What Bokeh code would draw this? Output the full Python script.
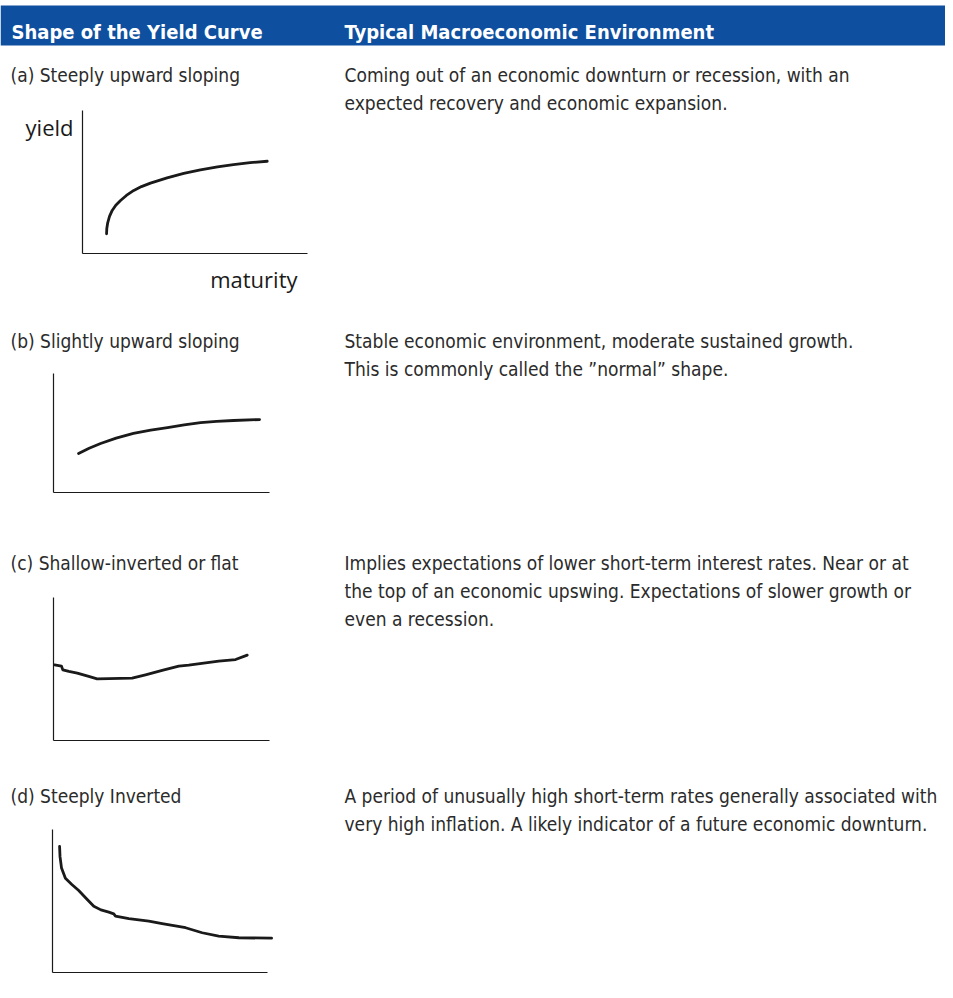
from bokeh.plotting import figure
from bokeh.models import Range1d
from bokeh.core.properties import value
from bokeh.embed import file_html
from bokeh.resources import INLINE

# ---------------- data ----------------
headers = ["Shape of the Yield Curve", "Typical Macroeconomic Environment"]
shape_labels = ["(a) Steeply upward sloping", "(b) Slightly upward sloping",
                "(c) Shallow-inverted or flat", "(d) Steeply Inverted"]
descriptions = [
    ["Coming out of an economic downturn or recession, with an",
     "expected recovery and economic expansion."],
    ["Stable economic environment, moderate sustained growth.",
     "This is commonly called the \u201dnormal\u201d shape."],
    ["Implies expectations of lower short-term interest rates. Near or at",
     "the top of an economic upswing. Expectations of slower growth or",
     "even a recession."],
    ["A period of unusually high short-term rates generally associated with",
     "very high inflation. A likely indicator of a future economic downturn."],
]
axis_y_label = "yield"
axis_x_label = "maturity"

# curves in chart units (maturity 0..10, yield 0..10)
a_maturity = [1.07, 1.08, 1.12, 1.20, 1.32, 1.48, 1.69, 1.95, 2.28, 2.62, 3.02, 3.76, 4.50, 5.24, 6.00, 6.71, 7.45, 8.21]
a_yield    = [1.38, 1.75, 2.15, 2.60, 3.01, 3.38, 3.71, 4.06, 4.41, 4.68, 4.92, 5.29, 5.60, 5.85, 6.05, 6.22, 6.35, 6.45]

b_maturity = [1.16, 1.65, 2.18, 2.90, 3.70, 4.50, 5.28, 6.05, 6.81, 7.55, 8.33, 9.54]
b_yield    = [3.28, 3.72, 4.12, 4.57, 4.96, 5.24, 5.46, 5.69, 5.88, 5.98, 6.05, 6.13]

c_maturity = [0.05, 0.37, 0.43, 0.71, 1.10, 1.63, 2.02, 3.64, 4.26, 5.03, 5.80, 6.26, 7.65, 8.43, 8.97]
c_yield    = [5.29, 5.20, 4.94, 4.83, 4.71, 4.48, 4.31, 4.36, 4.59, 4.90, 5.20, 5.27, 5.55, 5.66, 5.97]

d_maturity = [0.33, 0.35, 0.42, 0.60, 0.90, 1.22, 1.57, 1.92, 2.25, 2.62, 2.85, 2.93, 3.55, 4.48, 5.10, 6.19, 6.96, 7.73, 8.67, 10.19]
d_yield    = [8.81, 8.10, 7.30, 6.59, 6.15, 5.73, 5.18, 4.64, 4.38, 4.22, 4.10, 3.94, 3.76, 3.59, 3.41, 3.13, 2.78, 2.54, 2.43, 2.40]

curves = [(a_maturity, a_yield), (b_maturity, b_yield), (c_maturity, c_yield), (d_maturity, d_yield)]

# ---------------- layout (pixels) ----------------
W, H = 945, 982
X0, Y0 = 0, 0
# axis boxes per panel: (left, right, bottom, top) in pixels
boxes = [(82, 307, 253, 110), (53, 269, 492, 373), (53, 269, 740, 597), (52, 267, 972, 829)]
label_base = [74, 340, 562, 795]
line_gap = 28
CH_MAX = 10.0

BLUE = "#0e4fa0"
TXT = "#2b2b2b"
FONT = "DejaVu Sans Condensed"
FS = "19px"

p = figure(width=W, height=H, output_backend="svg", toolbar_location=None,
           x_range=Range1d(X0, X0 + W), y_range=Range1d(Y0 + H, Y0),
           min_border=0, x_axis_type=None, y_axis_type=None, tools="")
p.grid.visible = False
p.outline_line_color = None
p.background_fill_color = "white"
p.border_fill_color = "white"

# header band
p.quad(left=[0], right=[960], top=[5], bottom=[45], fill_color=BLUE, line_color=None)
p.text(x=[11, 344], y=[31, 31], text=headers, text_font=value(FONT),
       text_font_style="bold", text_font_size="20px", text_color="white",
       text_baseline="alphabetic")

# shape labels and descriptions
p.text(x=[10] * 4, y=label_base, text=shape_labels, text_font=value(FONT),
       text_font_size=FS, text_color=TXT, text_baseline="alphabetic")
dx, dy, dt = [], [], []
for base, lines in zip(label_base, descriptions):
    for i, ln in enumerate(lines):
        dx.append(344)
        dy.append(base + i * line_gap)
        dt.append(ln)
p.text(x=dx, y=dy, text=dt, text_font=value(FONT), text_font_size=FS,
       text_color=TXT, text_baseline="alphabetic")

# axis labels for panel (a)
p.text(x=[73], y=[126], text=[axis_y_label], text_font=value("Open Sans"),
       text_font_size="22px", text_color="#1a1a1a", text_align="right",
       text_baseline="alphabetic")
p.text(x=[297], y=[278], text=[axis_x_label], text_font=value("Open Sans"),
       text_font_size="22px", text_color="#1a1a1a", text_align="right",
       text_baseline="alphabetic")

# mini charts through per-panel ranges
for k, ((mx, yy), (l, r, b, t)) in enumerate(zip(curves, boxes)):
    sx = CH_MAX / (r - l)
    sy = CH_MAX / (b - t)
    name = "p%d" % k
    p.extra_x_ranges[name] = Range1d(0 - (l - X0) * sx, CH_MAX + (X0 + W - r) * sx)
    p.extra_y_ranges[name] = Range1d(0 - (Y0 + H - b) * sy, CH_MAX + (t - Y0) * sy)
    p.segment(x0=[0, 0], y0=[0, 0], x1=[CH_MAX, 0], y1=[0, CH_MAX],
              line_color="#1a1a1a", line_width=1.2,
              x_range_name=name, y_range_name=name)
    p.line(mx, yy, line_color="#1a1a1a", line_width=2.8, line_join="round",
           line_cap="round", x_range_name=name, y_range_name=name)

open("out.html", "w").write(file_html(p, INLINE))
